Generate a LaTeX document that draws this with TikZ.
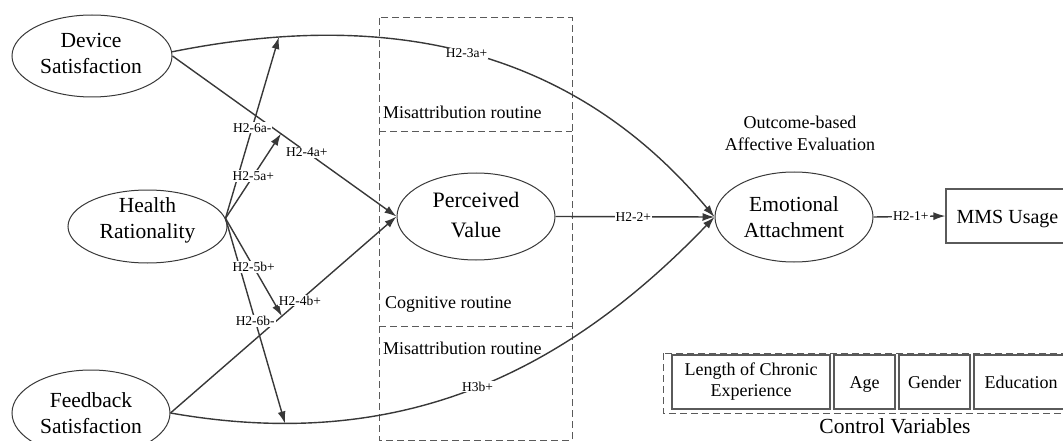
\documentclass[tikz,border=0pt]{standalone}
\usepackage{fontspec}
\setmainfont{Liberation Serif}
\usetikzlibrary{arrows.meta,shapes.geometric}
\definecolor{ink}{HTML}{383838}
\definecolor{frame}{HTML}{5A5A5A}

\begin{document}
\begin{tikzpicture}[x=1pt,y=-1pt,
  latent/.style={ellipse,draw=ink,line width=1pt,inner sep=0pt},
  nm/.style={inner sep=0pt,align=center,font=\fontsize{21.5}{26}\selectfont},
  link/.style={draw=ink,line width=1.4pt},
  arr/.style={link,-{Latex[length=12pt,width=8pt]}},
  hyp/.style={fill=white,inner sep=1pt,font=\fontsize{13.5}{15}\selectfont},
  zone/.style={draw=frame,line width=1pt,dash pattern=on 7pt off 4pt},
  ctrl/.style={rectangle,draw=frame,line width=1.2pt,minimum height=54pt,inner sep=0pt,
               font=\fontsize{18}{21}\selectfont,align=center},
  single/.style={text height=16pt,text depth=3pt},
  note/.style={inner sep=0pt,font=\fontsize{18}{22}\selectfont,align=center}]
\useasboundingbox (0,0) rectangle (1063,441);
\clip (0,0) rectangle (1063,441);

% routine zones around the mediator
\draw[zone] (379,18) rectangle (572,440);
\draw[zone] (379,132) -- (572,132);
\draw[zone] (379,326) -- (572,326);
\node[note,anchor=base west] (mis1) at (383,119) {Misattribution routine};
\node[note,anchor=base west] (cog)  at (385,308) {Cognitive routine};
\node[note,anchor=base west] (mis2) at (383,354) {Misattribution routine};

% latent constructs
\node[latent,minimum width=160pt,minimum height=82pt] (ds) at (92,56) {};
\node[nm] (dst) at (91,53) {Device\\Satisfaction};
\node[latent,minimum width=159pt,minimum height=73pt] (hr) at (147.5,226.5) {};
\node[nm] (hrt) at (147.5,220.5) {Health\\Rationality};
\node[latent,minimum width=158pt,minimum height=86pt] (fs) at (91,413) {};
\node[nm] (fst) at (91,412.7) {Feedback\\Satisfaction};
\node[latent,minimum width=158pt,minimum height=87pt] (pv) at (476,216.5) {};
\node[nm,font=\fontsize{22}{30}\selectfont] (pvt) at (476,214.7) {Perceived\\Value};
\node[latent,minimum width=158pt,minimum height=90pt] (ea) at (794,217) {};
\node[nm] (eat) at (794,217) {Emotional\\Attachment};
\node[note] (oae) at (800,133) {Outcome-based\\Affective Evaluation};

% outcome
\node[ctrl,minimum width=123pt,text height=17pt,text depth=3pt,
      font=\fontsize{20}{24}\selectfont] (mms) at (1007.5,216) {MMS Usage};

% control variables
\draw[zone] (663,353) rectangle (1075,413);
\node[ctrl,minimum width=158pt] (len) at (751,382) {Length of Chronic\\Experience};
\node[ctrl,single,minimum width=61pt] (age) at (864.5,382) {Age};
\node[ctrl,single,minimum width=71pt] (gen) at (934.5,382) {Gender};
\node[ctrl,single,minimum width=94pt] (edu) at (1021,382) {Education};
\node[inner sep=0pt,anchor=base,font=\fontsize{21.5}{26}\selectfont] (cv) at (895,433) {Control Variables};

% paths
\draw[arr] (ds.3) .. controls (390,8) and (573,48) .. (ea.west)
  coordinate[pos=0.168] (t6a) coordinate[pos=0.49] (l3a);
\draw[arr] (ds.east) -- (pv.west)
  coordinate[pos=0.484] (t5a) coordinate[pos=0.6] (l4a);
\draw[arr] (fs.east) -- (pv.west)
  coordinate[pos=0.493] (t5b) coordinate[pos=0.573] (l4b);
\draw[arr] (fs.east) .. controls (392,452) and (558,380) .. (ea.west)
  coordinate[pos=0.18] (t6b) coordinate[pos=0.52] (l3b);
\draw[arr] (pv.east) -- (ea.west) coordinate[pos=0.49] (l22);
\draw[arr] (ea.east) -- (mms.west) coordinate[pos=0.52] (l21);

% moderation by health rationality
\draw[arr] (hr.6) -- (t6a) coordinate[pos=0.5] (l6a);
\draw[arr] (hr.6) -- (t5a) coordinate[pos=0.5] (l5a);
\draw[arr] (hr.6) -- (t5b) coordinate[pos=0.5] (l5b);
\draw[arr] (hr.6) -- (t6b) coordinate[pos=0.5] (l6b);

% hypothesis labels
\node[hyp] (h3a) at (l3a) {H2-3a+};
\node[hyp] (h4a) at (l4a) {H2-4a+};
\node[hyp] (h6a) at (l6a) {H2-6a-};
\node[hyp] (h5a) at (l5a) {H2-5a+};
\node[hyp] (h5b) at (l5b) {H2-5b+};
\node[hyp] (h4b) at (l4b) {H2-4b+};
\node[hyp] (h6b) at (l6b) {H2-6b-};
\node[hyp] (h3b) at (l3b) {H3b+};
\node[hyp] (h22) at (l22) {H2-2+};
\node[hyp] (h21) at (l21) {H2-1+};
\end{tikzpicture}
\end{document}
